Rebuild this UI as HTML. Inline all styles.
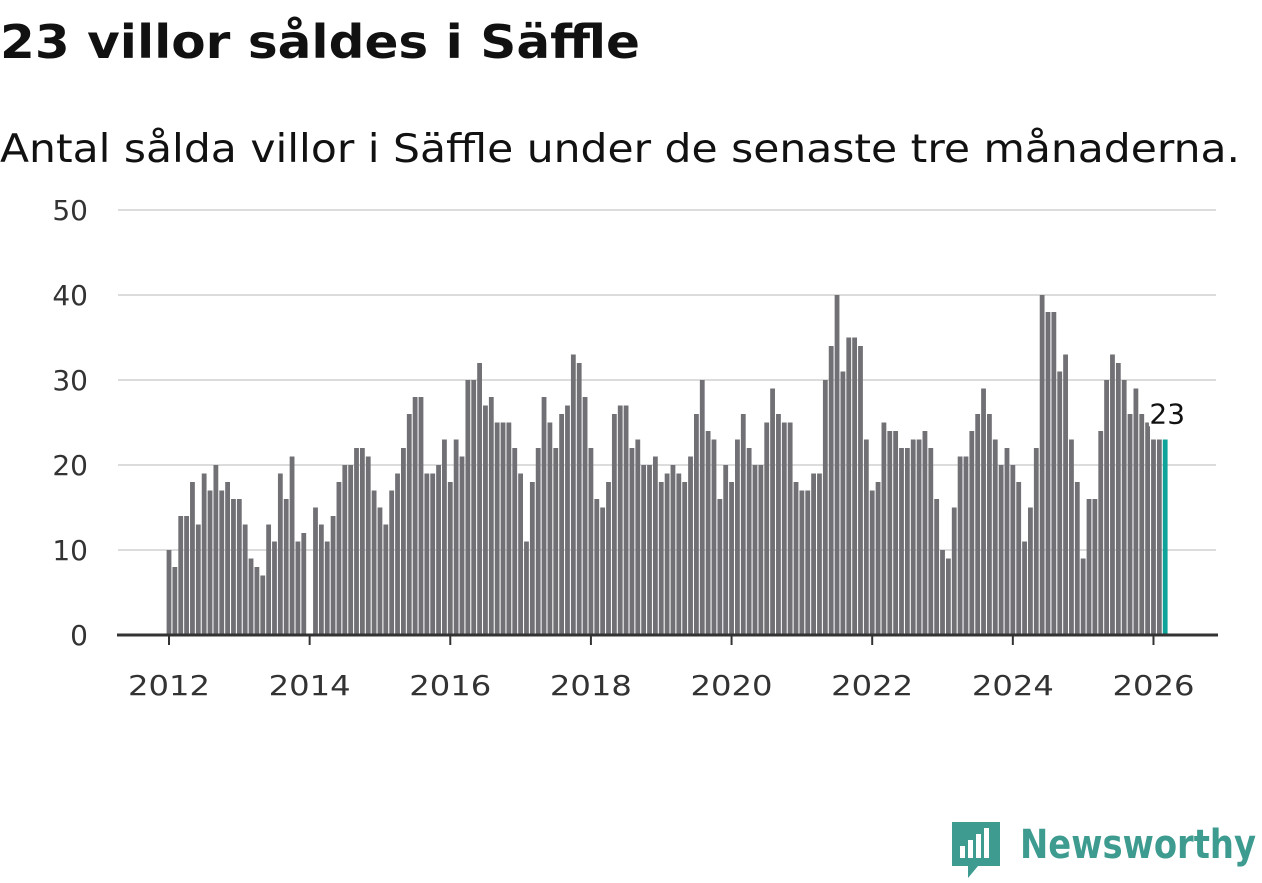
<!DOCTYPE html>
<html><head><meta charset="utf-8"><style>
body{margin:0;background:#fff;width:1262px;height:879px;overflow:hidden;font-family:"DejaVu Sans","Liberation Sans",sans-serif}
</style></head><body>
<svg width="1262" height="879" font-family="DejaVu Sans, Liberation Sans, sans-serif">
<text x="0" y="58" font-size="46" font-weight="bold" fill="#111" textLength="640" lengthAdjust="spacingAndGlyphs">23 villor såldes i Säffle</text>
<text x="0" y="162" font-size="39" fill="#111" textLength="1240" lengthAdjust="spacingAndGlyphs">Antal sålda villor i Säffle under de senaste tre månaderna.</text>
<g id="grid"></g><g id="bars"></g><g id="xaxis"></g>
<g>
<path d="M952 822 h48 v44 h-22 l-10 12 v-12 h-16 z" fill="#3d9b8f"/>
<rect x="960" y="846" width="5" height="12" fill="#fff"/><rect x="968" y="840" width="5" height="18" fill="#fff"/><rect x="976" y="834" width="5" height="24" fill="#fff"/><rect x="984" y="828" width="5" height="30" fill="#fff"/>
<text x="1020" y="858" font-size="40" font-weight="bold" fill="#3d9b8f" textLength="236" lengthAdjust="spacingAndGlyphs">Newsworthy</text>
</g>
</svg>
<script>
const years=[2012,2014,2016,2018,2020,2022,2024,2026];
const yTicks=[0,10,20,30,40,50];
const values=[
10,8,14,14,18,13,19,17,20,17,18,16,
16,13,9,8,7,13,11,19,16,21,11,12,
null,15,13,11,14,18,20,20,22,22,21,17,
15,13,17,19,22,26,28,28,19,19,20,23,
18,23,21,30,30,32,27,28,25,25,25,22,
19,11,18,22,28,25,22,26,27,33,32,28,
22,16,15,18,26,27,27,22,23,20,20,21,
18,19,20,19,18,21,26,30,24,23,16,20,
18,23,26,22,20,20,25,29,26,25,25,18,
17,17,19,19,30,34,40,31,35,35,34,23,
17,18,25,24,24,22,22,23,23,24,22,16,
10,9,15,21,21,24,26,29,26,23,20,22,
20,18,11,15,22,40,38,38,31,33,23,18,
9,16,16,24,30,33,32,30,26,29,26,25,
23,23,23];
const NS="http://www.w3.org/2000/svg";
function mk(t,a,p){const e=document.createElementNS(NS,t);for(const k in a)e.setAttribute(k,a[k]);p.appendChild(e);return e;}
const x=i=>169+i*5.86;
const y=v=>635-v*8.5;
const g=document.getElementById('grid'),b=document.getElementById('bars'),xa=document.getElementById('xaxis');
yTicks.forEach(t=>{
 if(t>0){const l=mk('line',{x1:118,x2:1216,y1:y(t),y2:y(t),stroke:'#dcdcdc','stroke-width':2},g);
 
 }
 const tx=mk('text',{x:88,y:y(t)+10,'font-size':28,fill:'#333','text-anchor':'end'},g);tx.textContent=t;
 
 
});
values.forEach((v,i)=>{if(v==null)return;
 const last=i===values.length-1;
 const r=mk('rect',{x:x(i)-2.4,y:y(v),width:4.8,height:v*8.5,fill:last?'#0fa39a':'#707075'},b);
 
 
});
const li=values.length-1;
const lab=mk('text',{x:x(li)+2,y:y(values[li])-16,'font-size':28,fill:'#111','text-anchor':'middle',stroke:'#fff','stroke-width':5,'paint-order':'stroke'},b);
lab.textContent=values[li];


const ax=mk('line',{x1:117,x2:1218,y1:635,y2:635,stroke:'#333','stroke-width':3},xa);


years.forEach(yr=>{const xi=x((yr-2012)*12);
 const tk=mk('line',{x1:xi,x2:xi,y1:635,y2:645,stroke:'#333','stroke-width':2},xa);
 
 
 const t=mk('text',{x:xi,y:695,'font-size':28,fill:'#333','text-anchor':'middle',textLength:82,lengthAdjust:'spacingAndGlyphs'},xa);t.textContent=yr;
 
 
});
</script>
</body></html>
